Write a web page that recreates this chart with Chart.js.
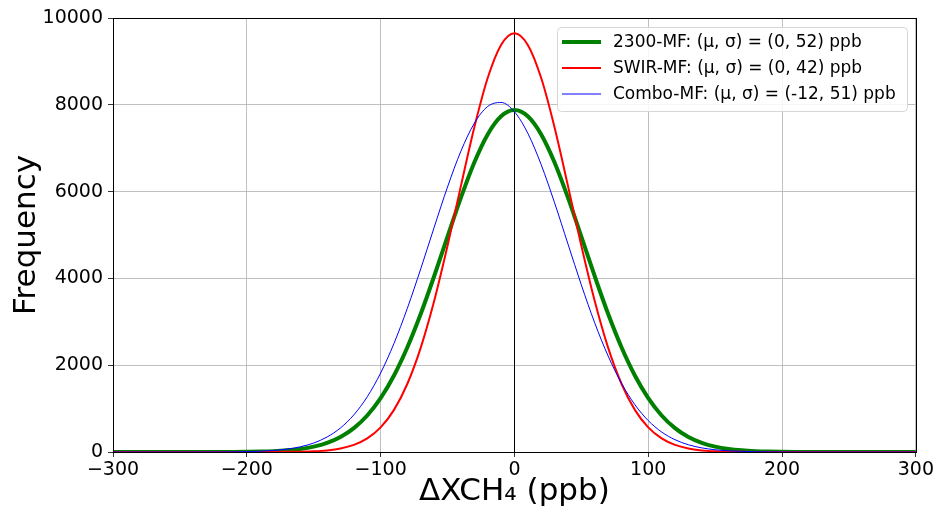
<!DOCTYPE html>
<html>
<head>
<meta charset="utf-8">
<script src="https://cdn.jsdelivr.net/npm/chart.js@4"></script>
<style>
  html, body { margin: 0; padding: 0; background: #fff; }
  #wrap { width: 936px; height: 511px; }
</style>
</head>
<body>
<div id="wrap"><canvas id="chart" width="936" height="511"></canvas></div>
<script>
// x positions (ppb) where values were read
const xValues = [
  -300, -290, -280, -270, -260, -250, -240, -230, -220, -210,
  -200, -190, -180, -170, -160, -150, -140, -130, -120, -110,
  -100, -90, -80, -70, -60, -50, -40, -30, -20, -10,
  0, 10, 20, 30, 40, 50, 60, 70, 80, 90,
  100, 110, 120, 130, 140, 150, 160, 170, 180, 190,
  200, 210, 220, 230, 240, 250, 260, 270, 280, 290, 300
];

const mf2300 = [
  0, 0, 0, 0, 0, 0, 0, 0, 1, 2,
  5, 10, 20, 38, 69, 123, 210, 346, 550, 841,
  1240, 1762, 2413, 3184, 4050, 4963, 5862, 6672, 7318, 7736,
  7880, 7736, 7318, 6672, 5862, 4963, 4050, 3184, 2413, 1762,
  1240, 841, 550, 346, 210, 123, 69, 38, 20, 10,
  5, 2, 1, 0, 0, 0, 0, 0, 0, 0, 0
];

const swirMf = [
  0, 0, 0, 0, 0, 0, 0, 0, 0, 0,
  0, 0, 1, 3, 7, 16, 37, 80, 163, 313,
  567, 971, 1573, 2406, 3478, 4751, 6132, 7477, 8616, 9380,
  9650, 9380, 8616, 7477, 6132, 4751, 3478, 2406, 1573, 971,
  567, 313, 163, 80, 37, 16, 7, 3, 1, 0,
  0, 0, 0, 0, 0, 0, 0, 0, 0, 0, 0
];

const comboMf = [
  0, 0, 0, 0, 0, 0, 0, 1, 2, 4,
  9, 18, 36, 66, 120, 207, 346, 554, 856, 1272,
  1819, 2503, 3314, 4222, 5176, 6106, 6932, 7573, 7961, 8054,
  7840, 7344, 6620, 5742, 4793, 3850, 2975, 2213, 1584, 1091,
  723, 461, 283, 167, 95, 52, 27, 14, 7, 3,
  1, 0, 0, 0, 0, 0, 0, 0, 0, 0, 0
];

const labels = [
  "2300-MF: (μ, σ) = (0, 52) ppb",
  "SWIR-MF: (μ, σ) = (0, 42) ppb",
  "Combo-MF: (μ, σ) = (-12, 51) ppb"
];

const FONT = "'DejaVu Sans', sans-serif";

function toPoints(ys) {
  return xValues.map((x, i) => ({ x: x, y: ys[i] }));
}

// box frame, zero line and matplotlib-like legend
const extras = {
  id: 'extras',
  beforeDatasetsDraw(chart) {
    const { ctx, chartArea: a, scales } = chart;
    const x0 = scales.x.getPixelForValue(0);
    ctx.save();
    ctx.strokeStyle = '#000';
    ctx.lineWidth = 1;
    ctx.beginPath();
    ctx.moveTo(Math.round(x0) + 0.5, a.top);
    ctx.lineTo(Math.round(x0) + 0.5, a.bottom);
    ctx.stroke();
    ctx.restore();
  },
  afterDraw(chart) {
    const { ctx, chartArea: a } = chart;
    ctx.save();
    ctx.strokeStyle = '#000';
    ctx.lineWidth = 1;
    ctx.strokeRect(Math.round(a.left) + 0.5, Math.round(a.top) + 0.5,
      Math.round(a.right - a.left), Math.round(a.bottom - a.top));

    // legend
    const bx = 557, by = 27, bw = 350, bh = 84;
    ctx.fillStyle = 'rgba(255,255,255,0.85)';
    ctx.strokeStyle = '#d6d6d6';
    ctx.beginPath();
    ctx.roundRect(bx + 0.5, by + 0.5, bw, bh, 4);
    ctx.fill();
    ctx.stroke();
    ctx.font = '17px ' + FONT;
    ctx.textBaseline = 'middle';
    chart.data.datasets.forEach((ds, i) => {
      const y = by + 15 + i * 26;
      ctx.strokeStyle = ds.borderColor;
      ctx.lineWidth = ds.borderWidth;
      ctx.beginPath();
      ctx.moveTo(562, y);
      ctx.lineTo(601, y);
      ctx.stroke();
      ctx.fillStyle = '#000';
      ctx.fillText(ds.label, 613, y + 1);
    });
    ctx.restore();
  }
};

new Chart(document.getElementById('chart'), {
  type: 'line',
  data: {
    datasets: [
      { label: labels[0], data: toPoints(mf2300), borderColor: '#008000', borderWidth: 4, order: 3 },
      { label: labels[1], data: toPoints(swirMf), borderColor: '#ff0000', borderWidth: 2, order: 2 },
      { label: labels[2], data: toPoints(comboMf), borderColor: '#0000ff', borderWidth: 1, order: 1 }
    ]
  },
  options: {
    responsive: false,
    animation: false,
    layout: { padding: { top: 18, right: 20, left: 0, bottom: 0 } },
    elements: {
      point: { radius: 0 },
      line: { cubicInterpolationMode: 'monotone', fill: false }
    },
    plugins: {
      legend: { display: false },
      tooltip: { enabled: false }
    },
    scales: {
      x: {
        type: 'linear',
        min: -300,
        max: 300,
        afterFit: s => { s.height = 59; },
        ticks: {
          stepSize: 100,
          color: '#000',
          font: { family: FONT, size: 19 },
          padding: 2,
          maxRotation: 0,
          callback: v => String(v).replace('-', '\u2212')
        },
        grid: { color: '#b0b0b0', lineWidth: 0.8, tickColor: '#000', tickLength: 5 },
        border: { color: '#000', width: 1 },
        title: {
          display: true,
          text: 'ΔXCH₄ (ppb)',
          color: '#000',
          font: { family: FONT, size: 31 },
          padding: { top: 1, bottom: 0 }
        }
      },
      y: {
        min: 0,
        max: 10000,
        afterFit: s => { s.width = 113; },
        ticks: {
          stepSize: 2000,
          color: '#000',
          font: { family: FONT, size: 19 },
          padding: 5,
          callback: v => String(v)
        },
        grid: { color: '#b0b0b0', lineWidth: 0.8, tickColor: '#000', tickLength: 5 },
        border: { color: '#000', width: 1 },
        title: {
          display: true,
          text: 'Frequency',
          color: '#000',
          font: { family: FONT, size: 31 },
          padding: { top: 8, bottom: 0 }
        }
      }
    }
  },
  plugins: [extras]
});
</script>
</body>
</html>
